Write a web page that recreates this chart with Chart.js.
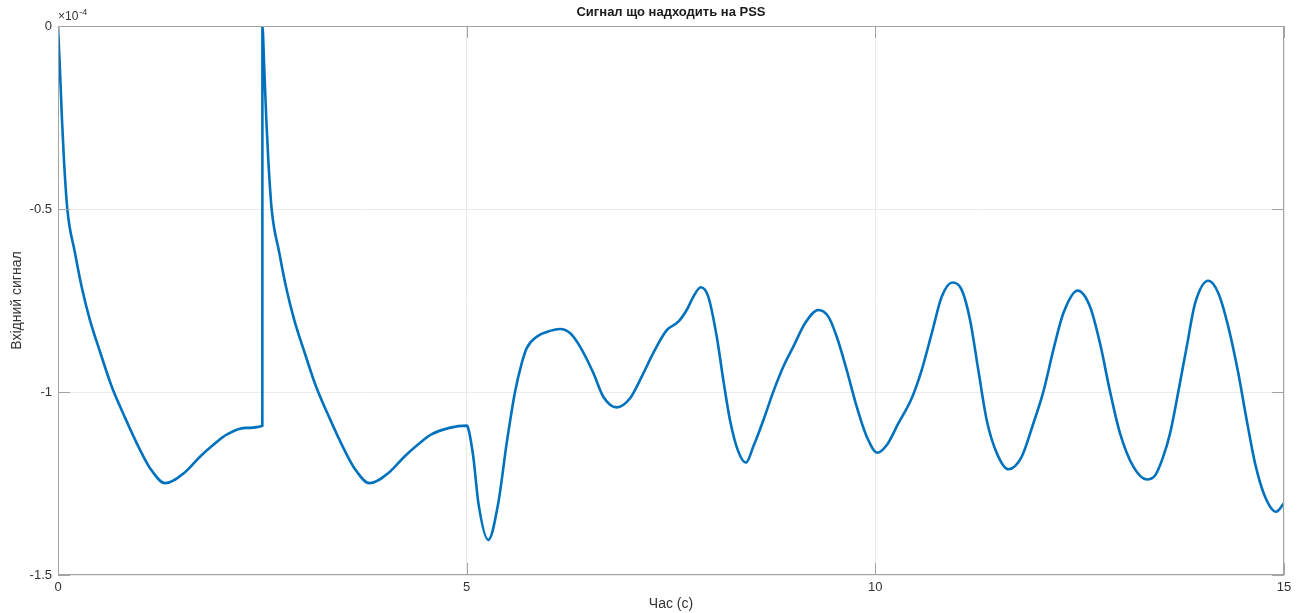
<!DOCTYPE html>
<html>
<head>
<meta charset="utf-8">
<script src="https://cdn.jsdelivr.net/npm/chart.js@4.4.1/dist/chart.umd.min.js"></script>
<style>
  html, body { margin: 0; padding: 0; background: #fff; }
  canvas { display: block; }
</style>
</head>
<body>
<canvas id="chart" width="1306" height="613"></canvas>
<script>
// time, seconds
const timeSec = [
  0, 0.024, 0.049, 0.073, 0.114, 0.208, 0.29, 0.39, 0.514, 0.657,
  0.82, 0.99, 1.126, 1.31, 1.554, 1.737, 1.897, 2.068, 2.288, 2.5,
  2.501, 2.524, 2.549, 2.573, 2.614, 2.708, 2.79, 2.89, 3.014, 3.157,
  3.32, 3.49, 3.626, 3.81, 4.054, 4.237, 4.397, 4.568, 4.788, 5.0,
  5.008, 5.081, 5.143, 5.265, 5.387, 5.49, 5.592, 5.674, 5.735, 5.857,
  6.02, 6.142, 6.264, 6.387, 6.55, 6.672, 6.836, 6.999, 7.142, 7.284,
  7.448, 7.59, 7.692, 7.773, 7.864, 7.957, 8.06, 8.14, 8.222, 8.324,
  8.418, 8.507, 8.63, 8.752, 8.874, 8.997, 9.14, 9.303, 9.425, 9.528,
  9.65, 9.772, 9.895, 10.024, 10.14, 10.281, 10.445, 10.567, 10.69, 10.812,
  10.942, 11.057, 11.159, 11.26, 11.363, 11.486, 11.627, 11.79, 11.933, 12.056,
  12.178, 12.30, 12.476, 12.627, 12.749, 12.872, 12.994, 13.157, 13.321, 13.42,
  13.517, 13.606, 13.707, 13.81, 13.912, 14.074, 14.197, 14.319, 14.441, 14.544,
  14.646, 14.768, 14.903, 15.0
];

// input signal, x1e-4
const signalE4 = [
  0, -0.12, -0.257, -0.366, -0.5, -0.62, -0.713, -0.803, -0.89, -0.985,
  -1.07, -1.152, -1.208, -1.249, -1.219, -1.177, -1.145, -1.116, -1.098, -1.092,
  0, -0.12, -0.257, -0.366, -0.5, -0.62, -0.713, -0.803, -0.89, -0.985,
  -1.07, -1.152, -1.208, -1.249, -1.219, -1.177, -1.145, -1.116, -1.098, -1.092,
  -1.093, -1.177, -1.303, -1.404, -1.303, -1.139, -0.999, -0.921, -0.880, -0.849,
  -0.833, -0.828, -0.839, -0.876, -0.948, -1.013, -1.042, -1.017, -0.958, -0.893,
  -0.831, -0.808, -0.776, -0.740, -0.714, -0.740, -0.849, -0.967, -1.077, -1.163,
  -1.193, -1.149, -1.077, -0.999, -0.931, -0.876, -0.812, -0.776, -0.794, -0.849,
  -0.940, -1.040, -1.122, -1.166, -1.145, -1.086, -1.017, -0.940, -0.840, -0.740,
  -0.701, -0.721, -0.803, -0.940, -1.077, -1.167, -1.211, -1.177, -1.086, -0.999,
  -0.885, -0.785, -0.723, -0.767, -0.867, -0.999, -1.113, -1.204, -1.239, -1.229,
  -1.180, -1.113, -0.999, -0.876, -0.758, -0.696, -0.730, -0.822, -0.949, -1.077,
  -1.195, -1.286, -1.327, -1.304
];

const xTicks = [0, 5, 10, 15];
const yTicks = [0, -0.5, -1, -1.5];

const titleText = 'Сигнал що надходить на PSS';
const xLabel = 'Час (с)';
const yLabel = 'Вхідний сигнал';
const exponentBase = '×10';
const exponentPow = '-4';

const FONT = '"Liberation Sans", Arial, sans-serif';
const TEXT = '#333333';

const points = timeSec.map((t, i) => ({ x: t, y: signalE4[i] }));

// box, inward ticks and all the text MATLAB-style
const framePlugin = {
  id: 'frame',
  afterDraw(chart) {
    const ctx = chart.ctx;
    const area = chart.chartArea;
    const xs = chart.scales.x;
    const ys = chart.scales.y;
    const tickLen = 12;

    ctx.save();
    ctx.strokeStyle = '#a3a3a3';
    ctx.lineWidth = 1;
    ctx.strokeRect(area.left + 0.5, area.top + 0.5, area.right - area.left - 1, area.bottom - area.top - 1);

    ctx.beginPath();
    xTicks.forEach(v => {
      const px = Math.round(xs.getPixelForValue(v)) + 0.5;
      ctx.moveTo(px, area.bottom);
      ctx.lineTo(px, area.bottom - tickLen);
      ctx.moveTo(px, area.top);
      ctx.lineTo(px, area.top + tickLen);
    });
    yTicks.forEach(v => {
      const py = Math.round(ys.getPixelForValue(v)) + 0.5;
      ctx.moveTo(area.left, py);
      ctx.lineTo(area.left + tickLen, py);
      ctx.moveTo(area.right, py);
      ctx.lineTo(area.right - tickLen, py);
    });
    ctx.stroke();

    ctx.fillStyle = '#1a1a1a';
    ctx.font = 'bold 13px ' + FONT;
    ctx.textAlign = 'center';
    ctx.textBaseline = 'middle';
    ctx.fillText(titleText, (area.left + area.right) / 2, 12);

    ctx.fillStyle = TEXT;
    ctx.font = '14px ' + FONT;
    ctx.fillText(xLabel, (area.left + area.right) / 2, 604);

    ctx.save();
    ctx.translate(17, (area.top + area.bottom) / 2);
    ctx.rotate(-Math.PI / 2);
    ctx.fillText(yLabel, 0, 0);
    ctx.restore();

    ctx.textAlign = 'left';
    ctx.textBaseline = 'alphabetic';
    ctx.font = '12px ' + FONT;
    ctx.fillText(exponentBase, area.left, 20);
    const w = ctx.measureText(exponentBase).width;
    ctx.font = '9px ' + FONT;
    ctx.fillText(exponentPow, area.left + w + 1, 15);
    ctx.restore();
  }
};

new Chart(document.getElementById('chart'), {
  type: 'line',
  data: {
    datasets: [{
      data: points,
      borderColor: '#0072BD',
      borderWidth: 2.6,
      pointRadius: 0,
      cubicInterpolationMode: 'monotone',
      fill: false
    }]
  },
  options: {
    responsive: false,
    animation: false,
    layout: { padding: { left: 0, right: 22, top: 26, bottom: 0 } },
    plugins: {
      legend: { display: false },
      tooltip: { enabled: false }
    },
    scales: {
      x: {
        type: 'linear',
        min: 0,
        max: 15,
        afterFit: s => { s.height = 38; },
        afterBuildTicks: s => { s.ticks = xTicks.map(v => ({ value: v })); },
        ticks: { color: TEXT, font: { family: FONT, size: 13 }, padding: 5, maxRotation: 0 },
        grid: { color: '#ebebeb', drawTicks: false },
        border: { display: false }
      },
      y: {
        type: 'linear',
        min: -1.5,
        max: 0,
        afterFit: s => { s.width = 58; },
        afterBuildTicks: s => { s.ticks = yTicks.map(v => ({ value: v })); },
        ticks: {
          color: TEXT,
          font: { family: FONT, size: 13 },
          padding: 6,
          callback: v => String(v)
        },
        grid: { color: '#ebebeb', drawTicks: false },
        border: { display: false }
      }
    }
  },
  plugins: [framePlugin]
});
</script>
</body>
</html>
